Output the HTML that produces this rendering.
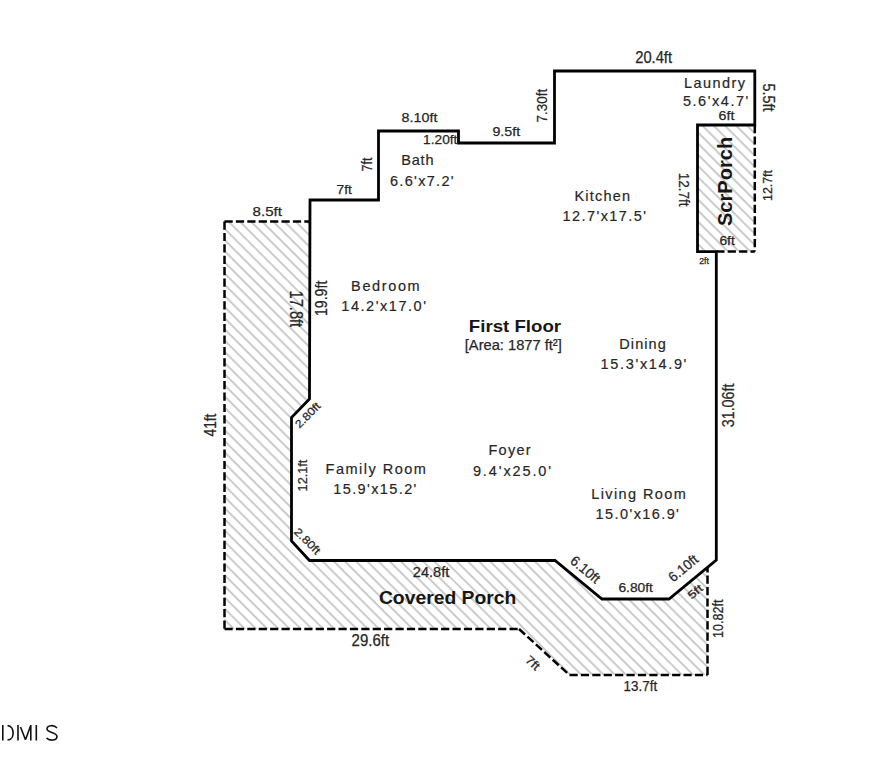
<!DOCTYPE html>
<html><head><meta charset="utf-8"><style>
html,body{margin:0;padding:0;background:#fff;width:873px;height:761px;overflow:hidden}
svg{display:block}
text{font-family:"Liberation Sans",sans-serif;fill:#262626;text-anchor:middle}
.r{stroke:#262626;stroke-width:0.18}
.dm{stroke:#262626;stroke-width:0.25}
text[font-weight="bold"]{fill:#161616;stroke:none}
</style></head><body>
<svg width="873" height="761" viewBox="0 0 873 761">
<defs>
<pattern id="h" patternUnits="userSpaceOnUse" x="0" y="0" width="7.9" height="10" patternTransform="rotate(-45)">
<rect x="4.25" y="-1" width="1.5" height="12" fill="#bcbcbc"/>
</pattern>
</defs>
<rect width="873" height="761" fill="#fff"/>
<path d="M224.5,221.5 L310,221.5 L309.5,399 L291.5,417.5 L291.5,541 L309.5,560.5 L555,560.5 L602,599 L669,599 L707.5,567 L707.5,675 L569.5,675 L519,629 L224.5,629 Z" fill="url(#h)"/>
<path d="M697.5,125 L754.8,125 L754.8,251.6 L697.5,251.6 Z" fill="url(#h)"/>
<g stroke="#000" stroke-width="2.5" stroke-dasharray="8.2 3.2" fill="none">
<line x1="224.5" y1="221.5" x2="310" y2="221.5"/>
<line x1="224.5" y1="221.5" x2="224.5" y2="629"/>
<line x1="224.5" y1="629" x2="519" y2="629"/>
<line x1="519" y1="629" x2="569.5" y2="675"/>
<line x1="569.5" y1="675" x2="707.5" y2="675"/>
<line x1="707.5" y1="675" x2="707.5" y2="567"/>
<line x1="754.8" y1="125" x2="754.8" y2="251.6"/>
<line x1="716.3" y1="251.6" x2="754.8" y2="251.6"/>
</g>
<path d="M310,200 L378.5,200 L378.5,131 L458.5,131 L458.5,143 L554.5,143 L554.5,71 L754.8,71 L754.8,125 L697.5,125 L697.5,251.6 L716.3,251.6 L716.3,560 L669,599 L602,599 L555,560.5 L309.5,560.5 L291.5,541 L291.5,417.5 L309.5,399 Z" fill="none" stroke="#000" stroke-width="2.8" stroke-linejoin="miter"/>
<g>
<text transform="translate(653.60 57.05) rotate(0)" x="0" y="5.75" font-size="15.75" font-weight="normal" textLength="36.80" lengthAdjust="spacingAndGlyphs" class="dm">20.4ft</text>
<text transform="translate(726.50 115.75) rotate(0)" x="0" y="4.65" font-size="12.74" font-weight="normal" textLength="15.80" lengthAdjust="spacingAndGlyphs" class="dm">6ft</text>
<text transform="translate(419.50 117.20) rotate(0)" x="0" y="4.90" font-size="13.42" font-weight="normal" textLength="35.80" lengthAdjust="spacingAndGlyphs" class="dm">8.10ft</text>
<text transform="translate(440.25 139.50) rotate(0)" x="0" y="4.90" font-size="13.42" font-weight="normal" textLength="34.30" lengthAdjust="spacingAndGlyphs" class="dm">1.20ft</text>
<text transform="translate(506.25 131.30) rotate(0)" x="0" y="4.80" font-size="13.15" font-weight="normal" textLength="27.70" lengthAdjust="spacingAndGlyphs" class="dm">9.5ft</text>
<text transform="translate(344.25 189.50) rotate(0)" x="0" y="4.90" font-size="13.42" font-weight="normal" textLength="15.30" lengthAdjust="spacingAndGlyphs" class="dm">7ft</text>
<text transform="translate(267.25 211.50) rotate(0)" x="0" y="4.90" font-size="13.42" font-weight="normal" textLength="29.30" lengthAdjust="spacingAndGlyphs" class="dm">8.5ft</text>
<text transform="translate(727.10 240.65) rotate(0)" x="0" y="4.45" font-size="12.19" font-weight="normal" textLength="15.40" lengthAdjust="spacingAndGlyphs" class="dm">6ft</text>
<text transform="translate(704.10 261.35) rotate(0)" x="0" y="3.05" font-size="8.36" font-weight="normal" textLength="9.80" lengthAdjust="spacingAndGlyphs" class="dm">2ft</text>
<text x="514.95" y="332.10" font-size="17.18" font-weight="bold" textLength="92.30" lengthAdjust="spacingAndGlyphs">First Floor</text>
<text transform="translate(513.30 345.60) rotate(0)" x="0" y="4.04" font-size="15.53" font-weight="normal" textLength="97.00" lengthAdjust="spacingAndGlyphs" class="dm">[Area: 1877 ft²]</text>
<text transform="translate(431.00 571.25) rotate(0)" x="0" y="5.35" font-size="14.66" font-weight="normal" textLength="36.40" lengthAdjust="spacingAndGlyphs" class="dm">24.8ft</text>
<text transform="translate(447.65 596.85) rotate(0)" x="0" y="6.85" font-size="18.77" font-weight="bold" textLength="137.50" lengthAdjust="spacingAndGlyphs" class="dm">Covered Porch</text>
<text transform="translate(635.65 587.30) rotate(0)" x="0" y="4.70" font-size="12.88" font-weight="normal" textLength="34.50" lengthAdjust="spacingAndGlyphs" class="dm">6.80ft</text>
<text transform="translate(370.35 640.35) rotate(0)" x="0" y="5.75" font-size="15.75" font-weight="normal" textLength="37.50" lengthAdjust="spacingAndGlyphs" class="dm">29.6ft</text>
<text transform="translate(640.35 685.60) rotate(0)" x="0" y="5.20" font-size="14.25" font-weight="normal" textLength="33.50" lengthAdjust="spacingAndGlyphs" class="dm">13.7ft</text>
<text transform="translate(541.25 105.65) rotate(-90)" x="0" y="5.65" font-size="15.48" font-weight="normal" textLength="33.50" lengthAdjust="spacingAndGlyphs" class="dm">7.30ft</text>
<text transform="translate(366.25 164.50) rotate(-90)" x="0" y="5.65" font-size="15.48" font-weight="normal" textLength="13.80" lengthAdjust="spacingAndGlyphs" class="dm">7ft</text>
<text transform="translate(724.60 181.45) rotate(-90)" x="0" y="7.70" font-size="21.10" font-weight="bold" textLength="89.30" lengthAdjust="spacingAndGlyphs" class="dm">ScrPorch</text>
<text transform="translate(767.10 185.50) rotate(-90)" x="0" y="4.50" font-size="12.33" font-weight="normal" textLength="31.00" lengthAdjust="spacingAndGlyphs" class="dm">12.7ft</text>
<text transform="translate(321.40 298.35) rotate(-90)" x="0" y="6.00" font-size="16.44" font-weight="normal" textLength="35.50" lengthAdjust="spacingAndGlyphs" class="dm">19.9ft</text>
<text transform="translate(210.40 425.00) rotate(-90)" x="0" y="5.80" font-size="15.89" font-weight="normal" textLength="22.80" lengthAdjust="spacingAndGlyphs" class="dm">41ft</text>
<text transform="translate(301.85 475.50) rotate(-90)" x="0" y="4.75" font-size="13.01" font-weight="normal" textLength="31.80" lengthAdjust="spacingAndGlyphs" class="dm">12.1ft</text>
<text transform="translate(728.25 405.40) rotate(-90)" x="0" y="6.05" font-size="16.58" font-weight="normal" textLength="43.80" lengthAdjust="spacingAndGlyphs" class="dm">31.06ft</text>
<text transform="translate(717.90 618.80) rotate(-90)" x="0" y="5.30" font-size="14.52" font-weight="normal" textLength="38.40" lengthAdjust="spacingAndGlyphs" class="dm">10.82ft</text>
<text transform="translate(768.40 97.40) rotate(90)" x="0" y="5.80" font-size="15.89" font-weight="normal" textLength="28.00" lengthAdjust="spacingAndGlyphs" class="dm">5.5ft</text>
<text transform="translate(684.35 189.65) rotate(90)" x="0" y="5.35" font-size="14.66" font-weight="normal" textLength="33.70" lengthAdjust="spacingAndGlyphs" class="dm">12.7ft</text>
<text transform="translate(296.00 308.85) rotate(90)" x="0" y="6.40" font-size="17.53" font-weight="normal" textLength="36.50" lengthAdjust="spacingAndGlyphs" class="dm">17.8ft</text>
<text x="714.45" y="87.60" font-size="14.5" textLength="61.10" lengthAdjust="spacing" class="r">Laundry</text>
<text x="715.65" y="105.60" font-size="14.5" textLength="65.50" lengthAdjust="spacing" class="r">5.6'x4.7'</text>
<text x="417.35" y="165.10" font-size="14.5" textLength="32.30" lengthAdjust="spacing" class="r">Bath</text>
<text x="421.75" y="186.20" font-size="14.5" textLength="63.70" lengthAdjust="spacing" class="r">6.6'x7.2'</text>
<text x="602.25" y="200.90" font-size="14.5" textLength="55.50" lengthAdjust="spacing" class="r">Kitchen</text>
<text x="604.25" y="221.00" font-size="14.5" textLength="83.50" lengthAdjust="spacing" class="r">12.7'x17.5'</text>
<text x="385.40" y="290.90" font-size="14.5" textLength="68.60" lengthAdjust="spacing" class="r">Bedroom</text>
<text x="383.65" y="311.00" font-size="14.5" textLength="84.70" lengthAdjust="spacing" class="r">14.2'x17.0'</text>
<text x="642.55" y="348.80" font-size="14.5" textLength="46.50" lengthAdjust="spacing" class="r">Dining</text>
<text x="643.50" y="369.00" font-size="14.5" textLength="85.80" lengthAdjust="spacing" class="r">15.3'x14.9'</text>
<text x="509.55" y="454.60" font-size="14.5" textLength="42.30" lengthAdjust="spacing" class="r">Foyer</text>
<text x="512.00" y="475.60" font-size="14.5" textLength="78.20" lengthAdjust="spacing" class="r">9.4'x25.0'</text>
<text x="375.75" y="474.10" font-size="14.5" textLength="100.30" lengthAdjust="spacing" class="r">Family Room</text>
<text x="374.80" y="493.60" font-size="14.5" textLength="83.20" lengthAdjust="spacing" class="r">15.9'x15.2'</text>
<text x="638.55" y="499.10" font-size="14.5" textLength="94.50" lengthAdjust="spacing" class="r">Living Room</text>
<text x="637.25" y="518.60" font-size="14.5" textLength="83.30" lengthAdjust="spacing" class="r">15.0'x16.9'</text>
<text transform="translate(307.50 415.00) rotate(-45)" x="0" y="4.01" font-size="11.00" textLength="31.00" lengthAdjust="spacingAndGlyphs" class="dm">2.80ft</text>
<text transform="translate(307.50 541.00) rotate(45)" x="0" y="4.01" font-size="11.00" textLength="32.00" lengthAdjust="spacingAndGlyphs" class="dm">2.80ft</text>
<text transform="translate(585.60 569.30) rotate(40)" x="0" y="5.11" font-size="14.00" textLength="34.00" lengthAdjust="spacingAndGlyphs" class="dm">6.10ft</text>
<text transform="translate(683.00 568.00) rotate(-40)" x="0" y="5.11" font-size="14.00" textLength="34.00" lengthAdjust="spacingAndGlyphs" class="dm">6.10ft</text>
<text transform="translate(695.00 591.60) rotate(-40)" x="0" y="4.01" font-size="11.00" textLength="16.00" lengthAdjust="spacingAndGlyphs" class="dm">5ft</text>
<text transform="translate(533.00 662.70) rotate(42)" x="0" y="4.38" font-size="12.00" textLength="15.00" lengthAdjust="spacingAndGlyphs" class="dm">7ft</text>
</g>
<g fill="none" stroke="#111" stroke-width="1.6">
<path d="M2.8,725 V740.5"/>
<path d="M7.5,725.6 C15,726 15,740 7.5,740"/>
<path d="M18,725 V740.5 M20.5,727 L25.6,740 M25.8,739 L30.5,726 M30.8,725 V740.5"/>
<path d="M36.3,725 V740.5"/>
<path d="M57,728 C54,724.5 47,725 47,729 C47,733 57,732 57,736.5 C57,741 49,741 46.5,738"/>
</g>
</svg>
</body></html>
